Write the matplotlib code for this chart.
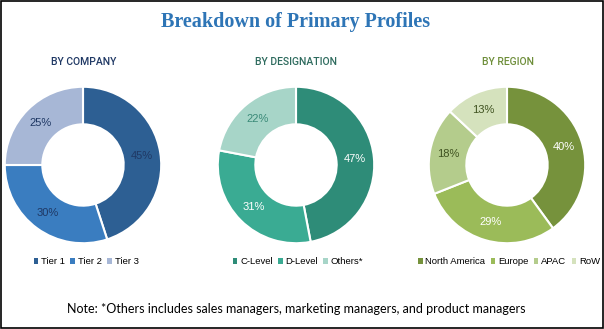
import matplotlib.pyplot as plt
from matplotlib.patches import Rectangle

# data
company_labels = ['Tier 1', 'Tier 2', 'Tier 3']
company_values = [45, 30, 25]
designation_labels = ['C-Level', 'D-Level', 'Others*']
designation_values = [47, 31, 22]
region_labels = ['North America', 'Europe', 'APAC', 'RoW']
region_values = [40, 29, 18, 13]

W, H = 604, 329
fig = plt.figure(figsize=(W / 100, H / 100), dpi=100)
fig.patches.append(Rectangle((0.001, 0.002), 0.997, 0.995, transform=fig.transFigure,
                             fill=False, edgecolor='black', linewidth=1.2))

fig.text(296 / W, 1 - 22 / H, 'Breakdown of Primary Profiles', ha='center', va='center',
         fontsize=14.5, fontweight='bold', color='#2E75B6', family='Liberation Serif')

R = 79
cy = 165
panels = [
    (83, 'BY COMPANY', '#1F3864', company_labels, company_values,
     ['#2D5F93', '#3A7DC0', '#A7B7D6'], ['#1F3864', '#1F3864', '#1F3864'], 84, 86),
    (296, 'BY DESIGNATION', '#2E6B5E', designation_labels, designation_values,
     ['#2E8C78', '#3AAB93', '#A7D5C8'], ['white', 'white', '#3A8A78'], 296, 298),
    (507, 'BY REGION', '#6E8E3A', region_labels, region_values,
     ['#76923C', '#9BBB59', '#B4CC8C', '#D5E2BD'], ['white', 'white', '#3F5220', '#3F5220'], 508, 509),
]

for cx, title, tcol, labels, values, colors, txtcols, tx, lx in panels:
    ax = fig.add_axes([(cx - R) / W, (H - cy - R) / H, 2 * R / W, 2 * R / H])
    wedges, texts, autotexts = ax.pie(values, colors=colors, startangle=90, counterclock=False,
                                      autopct='%d%%', pctdistance=0.76,
                                      wedgeprops=dict(width=0.48, edgecolor='white', linewidth=1.5),
                                      textprops=dict(fontsize=8, family='Liberation Sans'))
    for t, c in zip(autotexts, txtcols):
        t.set_color(c)
    ax.set_xlim(-1.01, 1.01)
    ax.set_ylim(-1.01, 1.01)
    ax.set_aspect('equal')
    fig.text(tx / W, 1 - 62 / H, title, ha='center', va='center', fontsize=7.5,
             color=tcol, family='Roboto', fontweight='medium')
    leg = fig.legend(wedges, labels, loc='center', bbox_to_anchor=(lx / W, 1 - 262 / H),
                     ncol=len(labels), frameon=False, handlelength=0.5, handleheight=0.5,
                     handletextpad=0.3, columnspacing=0.55, borderaxespad=0,
                     prop=dict(size=6.8, family='Liberation Sans'))
    for h in leg.legend_handles:
        h.set_linewidth(0)

fig.text(296 / W, 1 - 309 / H,
         'Note: *Others includes sales managers, marketing managers, and product managers',
         ha='center', va='center', fontsize=9, color='black', family='Lato')

fig.savefig('out.png', dpi=100)
